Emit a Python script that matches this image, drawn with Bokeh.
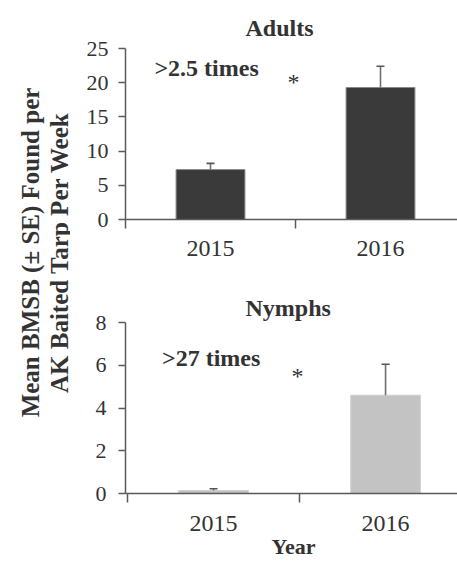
import math
from bokeh.plotting import figure
from bokeh.models import ColumnDataSource, FixedTicker, Label, Range1d
from bokeh.layouts import row, column
from bokeh.core.properties import value
from bokeh.embed import file_html
from bokeh.resources import INLINE

# ---- data ----
categories = ["2015", "2016"]
adults_mean = [7.3, 19.3]
adults_se = [0.9, 3.1]
nymphs_mean = [0.14, 4.6]
nymphs_se = [0.08, 1.45]
adults_yticks = [0, 5, 10, 15, 20, 25]
nymphs_yticks = [0, 2, 4, 6, 8]
ylabel_lines = ["Mean BMSB (\u00b1 SE) Found per", "AK Baited Tarp Per Week"]

FONT = "'Liberation Serif', serif"
TXT = "#333333"
AX = "#5a5a5a"


def make_panel(title, means, ses, fill, edge, yticks, x_start, frame_w, mbl, mbt, mbb,
               ann_text, ann_xy, star_xy, ylab_standoff, px_per_unit,
               title_standoff, title_offset):
    xs = [i + 1 for i in range(len(categories))]
    ymax = yticks[-1]
    x_end = x_start + frame_w / px_per_unit
    p = figure(frame_width=frame_w, frame_height=171, x_range=Range1d(x_start, x_end),
               y_range=Range1d(0, ymax), toolbar_location=None, output_backend="svg",
               min_border_left=mbl, min_border_right=0, min_border_top=mbt,
               min_border_bottom=mbb, title=title)
    p.outline_line_color = None
    p.grid.visible = False
    p.title.align = "left"
    p.title.text_font = FONT
    p.title.text_font_size = "24px"
    p.title.text_font_style = "bold"
    p.title.text_color = TXT
    p.title.standoff = title_standoff
    p.title.offset = title_offset

    src = ColumnDataSource(dict(x=xs, top=means,
                                err=[m + s for m, s in zip(means, ses)]))
    p.vbar(x="x", top="top", width=0.405, source=src, fill_color=fill,
           line_color=edge, line_width=1)
    p.segment(x0="x", y0="top", x1="x", y1="err", source=src,
              line_color="#6e6e6e", line_width=1.6)
    p.dash(x="x", y="err", source=src, size=8, line_color="#555555", line_width=1.6)

    xa = p.xaxis[0]
    xa.ticker = FixedTicker(ticks=xs, minor_ticks=[0.5, 1.5, 2.5])
    xa.major_label_overrides = {x: c for x, c in zip(xs, categories)}
    xa.major_tick_line_color = None
    xa.major_tick_out = 0
    xa.major_tick_in = 0
    xa.minor_tick_out = 9
    xa.minor_tick_in = 0
    xa.minor_tick_line_color = AX
    xa.minor_tick_line_width = 1.5
    xa.axis_line_color = AX
    xa.axis_line_width = 1.5
    xa.major_label_text_font = FONT
    xa.major_label_text_font_size = "24px"
    xa.major_label_text_color = TXT
    xa.major_label_standoff = 12

    ya = p.yaxis[0]
    ya.ticker = FixedTicker(ticks=yticks, minor_ticks=[])
    ya.major_tick_out = 7
    ya.major_tick_in = 0
    ya.major_tick_line_color = AX
    ya.major_tick_line_width = 1.5
    ya.axis_line_color = AX
    ya.axis_line_width = 1.5
    ya.major_label_text_font = FONT
    ya.major_label_text_font_size = "22px"
    ya.major_label_text_color = TXT
    ya.major_label_standoff = ylab_standoff

    p.add_layout(Label(x=ann_xy[0], y=ann_xy[1], text=ann_text, text_font=FONT,
                       text_font_style="bold", text_font_size="24px", text_color=TXT,
                       text_align="left"))
    p.add_layout(Label(x=star_xy[0], y=star_xy[1], text="*", text_font=FONT,
                       text_font_size="24px", text_color=TXT, text_align="center"))
    return p


top = make_panel("Adults", adults_mean, adults_se, "#3a3a3a", "#8a8a8a", adults_yticks,
                 0.5, 332, 55, 48, 50, ">2.5 times", (0.67, 20.2),
                 (1.488, 18.13), 10, 170.0, 15, 120)
bottom = make_panel("Nymphs", nymphs_mean, nymphs_se, "#c3c3c3", "#d0d0d0", nymphs_yticks,
                    0.488, 336, 51, 53, 0, ">27 times", (0.70, 5.72),
                    (1.488, 4.91), 12, 172.0, 3, 120)
bottom.xaxis.axis_label = "Year"
bottom.xaxis.axis_label_text_font = FONT
bottom.xaxis.axis_label_text_font_style = "bold"
bottom.xaxis.axis_label_text_font_size = "22px"
bottom.xaxis.axis_label_text_color = TXT
bottom.xaxis.axis_label_standoff = 0
bottom.xaxis.major_label_standoff = 13

lab = figure(width=70, height=561, x_range=Range1d(0, 70), y_range=Range1d(0, 561),
             toolbar_location=None, output_backend="svg", min_border=0,
             x_axis_location=None, y_axis_location=None)
lab.outline_line_color = None
lab.grid.visible = False
lab.text(x=[30, 59], y=[309, 309], text=ylabel_lines, angle=math.pi / 2,
         text_align="center", text_baseline="alphabetic", text_font=value(FONT),
         text_font_style="bold", text_font_size="25px", text_color=TXT)

layout = row(lab, column(top, bottom))
open("out.html", "w").write(file_html(layout, INLINE))
